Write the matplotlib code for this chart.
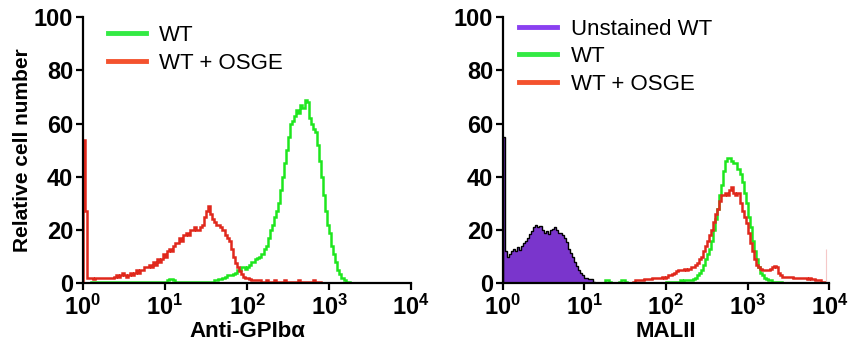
import numpy as np
import matplotlib
matplotlib.use('Agg')
import matplotlib.pyplot as plt
from matplotlib.lines import Line2D
from matplotlib.ticker import FixedLocator, FixedFormatter

plt.rcParams['font.family'] = ['Liberation Sans', 'DejaVu Sans']
plt.rcParams['mathtext.fontset'] = 'custom'
plt.rcParams['mathtext.rm'] = 'Liberation Sans'
plt.rcParams['mathtext.bf'] = 'Liberation Sans:bold'

# histogram channels: 0.025 decade wide, values given from a start channel
CH = 0.025

# left panel: Anti-GPIb alpha
gp_wt_start = 4
gp_wt = [0.3, 0.5, 0.3, 0.3, 0.5, 0.3, 0.3, 0.5, 0.3, 0.3, 0.5, 0.3,
         0.3, 0.5, 0.3, 0.3, 0.5, 0.3, 0.3, 0.5, 0.3, 0.3, 0.5, 0.3,
         0.3, 0.5, 0.3, 0.3, 0.5, 0.3, 0.3, 0.5, 0.3, 0.3, 0.5, 0.3,
         0.5, 1, 1.5, 1.5, 1, 0.5,
         0.5, 0.5, 0.3, 0.5, 0.5, 0.3, 0.5, 0.5, 0.3, 0.5, 0.5, 0.3,
         0.5, 0.5, 0.3, 0.5, 0.5, 0.5,
         1, 1, 1.5, 1.5, 2, 2.5, 3, 3,
         3, 3.5, 4, 5, 5, 6, 6, 5.5,
         6, 7, 8, 8, 9, 9.5,
         10, 11, 13, 14,
         17, 20, 22, 25,
         27, 30, 35, 40,
         45, 50, 55, 60,
         61, 63, 65, 64,
         67, 66, 69, 68,
         62, 60, 58, 57,
         52, 46, 40, 33,
         27, 22, 19, 14,
         11, 8, 5, 3.5,
         2, 1, 0.5, 0.3]
gp_osge_start = 0
gp_osge = [54, 27,
           2, 2, 2, 1.5, 2, 2, 2, 2, 2, 2, 2, 2, 2,
           2.5, 3, 2.5, 3, 4, 3, 2.5,
           3, 4, 3, 4, 5, 4, 5, 5,
           6, 6, 7, 6, 8, 7, 9, 8,
           9, 11, 10, 12, 13, 12, 14, 15,
           15, 17, 16, 18, 19, 18, 20,
           20, 21, 20, 20, 21,
           22, 25, 27, 29,
           26, 24,
           23, 22, 22, 21,
           20, 18, 17, 16,
           13, 10, 7.5, 6,
           4.5, 3.5, 2.5, 2,
           2, 1.5, 1, 1, 1, 1,
           1, 0.5, 0.5, 1, 0.5, 0.5, 0.5, 1, 0.5, 0.5, 0.5, 0.5, 1, 0.5, 0.5,
           0.5, 0.5, 0.5, 0.5, 1, 0.5, 0.5, 0.5, 0.5, 0.5, 0.5, 1, 0.5, 0.5, 0.5]

# right panel: MALII
mal_unst_start = 0
mal_unst = [55, 12, 10, 11, 12, 13, 12, 13.5, 12.5, 14, 15, 16,
            17, 18.5, 19.5, 21, 22, 21, 21.5, 20, 19, 19.5, 18.5, 20,
            20.5, 21, 20, 19, 19, 18, 17, 15.5, 13, 11.5, 10, 8,
            6.5, 5, 4, 3, 2, 2, 1.5, 1.5, 0.5]
mal_wt_start = 50
mal_wt = [1, 1, 0.5, 0, 0, 0, 0, 0.5, 1, 1, 0.5, 0, 0, 0,
          0, 0, 0, 0, 0, 0, 0, 0, 0, 0, 0, 0, 0, 0, 0, 0,
          0.3, 0.3, 0.5, 0.5, 0.5, 0.5, 0.5, 1, 0.5, 1, 1, 1,
          1, 1.5, 2, 3,
          4, 5, 7, 9,
          11, 13, 16, 20,
          24, 28, 33, 37,
          42, 46, 47, 47,
          46, 45, 45, 43,
          41, 38, 34, 30,
          25, 21, 16, 12,
          9, 6, 4, 3,
          2, 1.5, 1, 1,
          0.5, 0.5, 0.3, 0.3, 0.3, 0]
mal_osge_start = 64
mal_osge = [0.5, 1, 1, 1, 1, 1.5, 1.5, 1.5,
            1.5, 2, 2, 2, 2, 2, 2.5, 2,
            2.5, 3, 3, 3.5,
            4, 4.5, 5, 5,
            5, 5.5, 5, 5.5,
            6, 6, 7, 7.5,
            9, 10, 12, 14,
            16, 18, 20, 23,
            26, 28, 31, 33,
            33, 34, 33, 35,
            36, 34, 33, 34,
            30, 27, 25, 22.5,
            19, 15, 12, 9,
            7, 6, 5.5, 5,
            5, 5, 5, 5.5,
            6, 6.5, 6, 4,
            3, 2.5, 2.5, 2.5,
            2.5, 2.5, 2, 2,
            2, 2, 2, 2,
            2, 1.5, 2, 1.5,
            1.5, 1, 1, 1,
            0.5, 0.5, 0, 0]

x_ticks = [1, 10, 100, 1000, 10000]
x_tick_labels = [r'$\mathbf{10^{%d}}$' % i for i in range(5)]
y_ticks = [0, 20, 40, 60, 80, 100]

GREEN = '#1ee61e'
RED = '#e0281c'
LEG_GREEN = '#33ea44'
LEG_RED = '#f4522e'
PURPLE = '#7a35cc'


def edges(start, n):
    return 10 ** (np.arange(start, start + n + 1) * CH)


def style_axes(ax, xlabel):
    ax.set_xscale('log')
    ax.set_xlim(1, 10000)
    ax.set_ylim(0, 100)
    ax.xaxis.set_major_locator(FixedLocator(x_ticks))
    ax.xaxis.set_major_formatter(FixedFormatter(x_tick_labels))
    ax.xaxis.set_minor_locator(FixedLocator([]))
    ax.set_yticks(y_ticks)
    for s in ['top', 'right']:
        ax.spines[s].set_visible(False)
    for s in ['left', 'bottom']:
        ax.spines[s].set_linewidth(1.6)
    ax.tick_params(axis='both', direction='out', length=5, width=1.6, pad=2)
    ax.tick_params(axis='y', labelsize=17)
    ax.tick_params(axis='x', labelsize=17, pad=3)
    for t in ax.get_yticklabels():
        t.set_fontweight('bold')
    ax.set_xlabel(xlabel, fontsize=16, fontweight='bold', labelpad=1)


fig = plt.figure(figsize=(8.55, 3.5), dpi=100)
ax1 = fig.add_axes([0.097, 0.191, 0.384, 0.760])
ax2 = fig.add_axes([0.588, 0.191, 0.382, 0.760])

ax1.stairs(gp_wt, edges(gp_wt_start, len(gp_wt)), color=GREEN, linewidth=1.8)
ax1.stairs(gp_osge, edges(gp_osge_start, len(gp_osge)), color=RED, linewidth=1.8)
style_axes(ax1, 'Anti-GPIbα')
ax1.set_ylabel('Relative cell number', fontsize=15, fontweight='bold', labelpad=1)
h1 = [Line2D([], [], color=LEG_GREEN, linewidth=3.5),
      Line2D([], [], color=LEG_RED, linewidth=3.5)]
ax1.legend(h1, ['WT', 'WT + OSGE'], loc='upper left', bbox_to_anchor=(0.015, 1.045),
           frameon=False, fontsize=16, handlelength=1.7, handletextpad=0.6,
           labelspacing=0.3)

ax2.stairs(mal_unst, edges(mal_unst_start, len(mal_unst)), fill=True, color=PURPLE,
           linewidth=0)
ax2.stairs(mal_unst, edges(mal_unst_start, len(mal_unst)), color='black', linewidth=1.0)
ax2.stairs(mal_wt, edges(mal_wt_start, len(mal_wt)), color=GREEN, linewidth=1.8)
ax2.stairs(mal_osge, edges(mal_osge_start, len(mal_osge)), color=RED, linewidth=1.8)
ax2.vlines(10 ** 3.965, 0, 13, color='#f5c8c8', linewidth=0.8)
style_axes(ax2, 'MALII')
h2 = [Line2D([], [], color='#8a40f0', linewidth=3.5),
      Line2D([], [], color=LEG_GREEN, linewidth=3.5),
      Line2D([], [], color=LEG_RED, linewidth=3.5)]
ax2.legend(h2, ['Unstained WT', 'WT', 'WT + OSGE'], loc='upper left',
           bbox_to_anchor=(-0.01, 1.07), frameon=False, fontsize=16, handlelength=1.7,
           handletextpad=0.6, labelspacing=0.3)

fig.savefig('out.png', dpi=100)
